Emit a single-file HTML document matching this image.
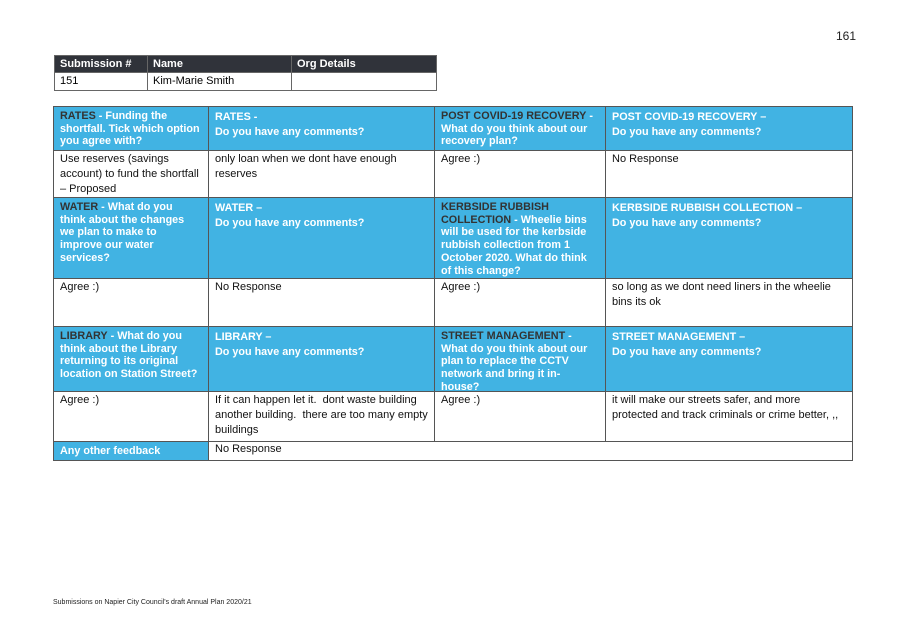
<!DOCTYPE html>
<html><head><meta charset="utf-8"><style>
body{margin:0;width:906px;height:635px;background:#fff;position:relative;font-family:"Liberation Sans",Arial,sans-serif;overflow:hidden}
.c{position:absolute;box-sizing:border-box;border:1px solid #555;padding:1px 6px;font-size:11px;line-height:15px;color:#111}
.h{background:#41b3e3;color:#fff;font-weight:bold;font-size:10.8px;line-height:12.7px;padding-top:3px;padding-right:0;white-space:nowrap;overflow:hidden}
.h b{color:#333}
.t{position:absolute;box-sizing:border-box;border:1px solid #666;font-size:11px;padding:1px 5px;line-height:15px}
.th{background:#30333a;color:#fff;font-weight:bold}
</style></head><body>
<div style="position:absolute;left:836px;top:29px;font-size:12px;color:#222">161</div>
<div class="t th" style="left:54px;top:55px;width:94px;height:18px">Submission #</div>
<div class="t th" style="left:147px;top:55px;width:145px;height:18px">Name</div>
<div class="t th" style="left:291px;top:55px;width:146px;height:18px">Org Details</div>
<div class="t" style="left:54px;top:72px;width:94px;height:19px">151</div>
<div class="t" style="left:147px;top:72px;width:145px;height:19px">Kim-Marie Smith</div>
<div class="t" style="left:291px;top:72px;width:146px;height:19px"></div>

<div class="c h" style="left:53px;top:106px;width:156px;height:45px"><b>RATES</b> - Funding the<br>shortfall. Tick which option<br>you agree with?</div>
<div class="c h" style="left:208px;top:106px;width:227px;height:45px;line-height:15px">RATES -<br>Do you have any comments?</div>
<div class="c h" style="left:434px;top:106px;width:172px;height:45px"><b>POST COVID-19 RECOVERY</b> -<br>What do you think about our<br>recovery plan?</div>
<div class="c h" style="left:605px;top:106px;width:248px;height:45px;line-height:15px">POST COVID-19 RECOVERY –<br>Do you have any comments?</div>

<div class="c" style="left:53px;top:150px;width:156px;height:48px">Use reserves (savings account) to fund the shortfall – Proposed</div>
<div class="c" style="left:208px;top:150px;width:227px;height:48px">only loan when we dont have enough reserves</div>
<div class="c" style="left:434px;top:150px;width:172px;height:48px">Agree :)</div>
<div class="c" style="left:605px;top:150px;width:248px;height:48px">No Response</div>

<div class="c h" style="left:53px;top:197px;width:156px;height:82px"><b>WATER</b> - What do you<br>think about the changes<br>we plan to make to<br>improve our water<br>services?</div>
<div class="c h" style="left:208px;top:197px;width:227px;height:82px;line-height:15px">WATER –<br>Do you have any comments?</div>
<div class="c h" style="left:434px;top:197px;width:172px;height:82px"><b>KERBSIDE RUBBISH<br>COLLECTION</b> - Wheelie bins<br>will be used for the kerbside<br>rubbish collection from 1<br>October 2020. What do think<br>of this change?</div>
<div class="c h" style="left:605px;top:197px;width:248px;height:82px;line-height:15px">KERBSIDE RUBBISH COLLECTION –<br>Do you have any comments?</div>

<div class="c" style="left:53px;top:278px;width:156px;height:49px">Agree :)</div>
<div class="c" style="left:208px;top:278px;width:227px;height:49px">No Response</div>
<div class="c" style="left:434px;top:278px;width:172px;height:49px">Agree :)</div>
<div class="c" style="left:605px;top:278px;width:248px;height:49px">so long as we dont need liners in the wheelie bins its ok</div>

<div class="c h" style="left:53px;top:326px;width:156px;height:66px"><b>LIBRARY</b> - What do you<br>think about the Library<br>returning to its original<br>location on Station Street?</div>
<div class="c h" style="left:208px;top:326px;width:227px;height:66px;line-height:15px">LIBRARY –<br>Do you have any comments?</div>
<div class="c h" style="left:434px;top:326px;width:172px;height:66px"><b>STREET MANAGEMENT</b> -<br>What do you think about our<br>plan to replace the CCTV<br>network and bring it in-<br>house?</div>
<div class="c h" style="left:605px;top:326px;width:248px;height:66px;line-height:15px">STREET MANAGEMENT –<br>Do you have any comments?</div>

<div class="c" style="left:53px;top:391px;width:156px;height:51px">Agree :)</div>
<div class="c" style="left:208px;top:391px;width:227px;height:51px">If it can happen let it.&nbsp; dont waste building another building.&nbsp; there are too many empty buildings</div>
<div class="c" style="left:434px;top:391px;width:172px;height:51px">Agree :)</div>
<div class="c" style="left:605px;top:391px;width:248px;height:51px">it will make our streets safer, and more protected and track criminals or crime better, ,,</div>

<div class="c h" style="left:53px;top:441px;width:156px;height:20px;padding-top:2px;line-height:15px">Any other feedback</div>
<div class="c" style="left:208px;top:441px;width:645px;height:20px;padding-top:0">No Response</div>

<div style="position:absolute;left:53px;top:599px;font-size:7px;color:#222">Submissions on Napier City Council's draft Annual Plan 2020/21</div>
</body></html>
